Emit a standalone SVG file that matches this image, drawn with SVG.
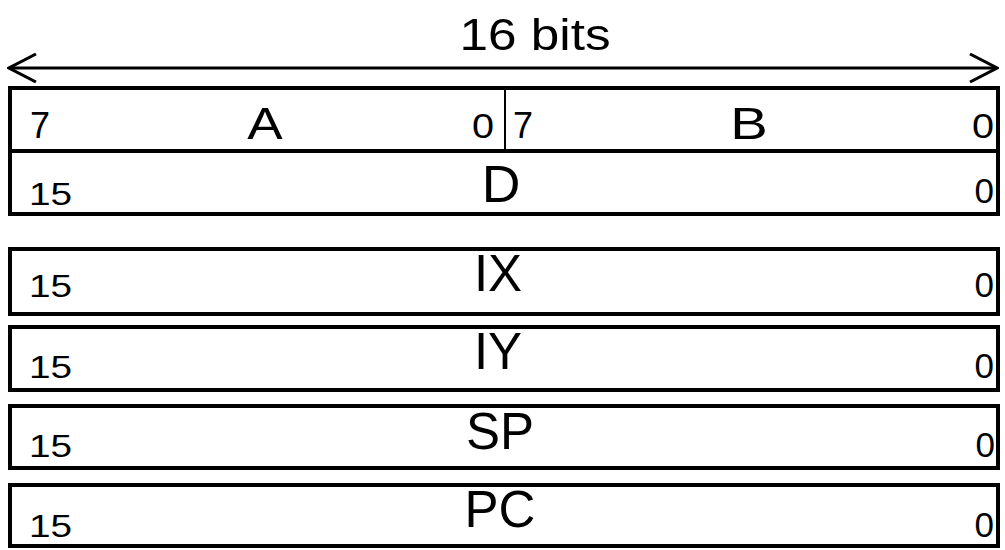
<svg xmlns="http://www.w3.org/2000/svg" width="1005" height="550" viewBox="0 0 1005 550">
<style>
.box{fill:#fff;stroke:#000;stroke-width:4}
.t{font-family:"Liberation Sans",Arial,sans-serif;fill:#000}
.c{text-anchor:middle}
.e{text-anchor:end}
.r1{font-size:45px}
.big{font-size:51px}
.d1{font-size:36px}
.n15{font-size:31px}
.z{font-size:35px}
</style>
<defs>
<marker id="ah" viewBox="0 0 30 30" refX="28" refY="15" markerWidth="30" markerHeight="30" markerUnits="userSpaceOnUse" orient="auto-start-reverse">
<path d="M1,1 L28,15 L1,29" fill="none" stroke="#000" stroke-width="3"/>
</marker>
</defs>
<text class="t c" font-size="45" transform="translate(535,50) scale(1.14,1)">16 bits</text>
<g id="connectors">
<line x1="9" y1="68" x2="997" y2="68" stroke="#000" stroke-width="3" marker-start="url(#ah)" marker-end="url(#ah)"/>
</g>
<g id="regAB">
<rect class="box" x="10" y="88" width="988" height="63"/>
<line x1="505" y1="88" x2="505" y2="151" stroke="#000" stroke-width="2"/>
<text class="t d1" x="30" y="138">7</text>
<text class="t r1 c" transform="translate(265,139) scale(1.18,1)">A</text>
<text class="t d1 e" transform="translate(494,138) scale(1.1,1)">0</text>
<text class="t d1" x="513" y="138">7</text>
<text class="t r1 c" transform="translate(749,139) scale(1.25,1)">B</text>
<text class="t d1 e" transform="translate(994,138) scale(1.1,1)">0</text>
</g>
<g id="regD">
<rect class="box" x="10" y="151" width="988" height="63"/>
<text class="t n15" transform="translate(29,205) scale(1.25,1)">15</text>
<text class="t big c" transform="translate(501,202) scale(1.05,1)">D</text>
<text class="t z e" x="994" y="203">0</text>
</g>
<g id="regIX">
<rect class="box" x="10" y="249" width="988" height="65"/>
<text class="t n15" transform="translate(29,297) scale(1.25,1)">15</text>
<text class="t big c" x="498" y="291">IX</text>
<text class="t z e" x="994" y="297">0</text>
</g>
<g id="regIY">
<rect class="box" x="10" y="327" width="988" height="63"/>
<text class="t n15" transform="translate(29,378) scale(1.25,1)">15</text>
<text class="t big c" x="498" y="369">IY</text>
<text class="t z e" x="994" y="378">0</text>
</g>
<g id="regSP">
<rect class="box" x="10" y="406" width="988" height="62"/>
<text class="t n15" transform="translate(29,457) scale(1.25,1)">15</text>
<text class="t big c" x="500" y="449">SP</text>
<text class="t z e" x="995" y="457">0</text>
</g>
<g id="regPC">
<rect class="box" x="10" y="485" width="988" height="61"/>
<text class="t n15" transform="translate(29,537) scale(1.25,1)">15</text>
<text class="t big c" x="500" y="527">PC</text>
<text class="t z e" x="994" y="537">0</text>
</g>
</svg>
